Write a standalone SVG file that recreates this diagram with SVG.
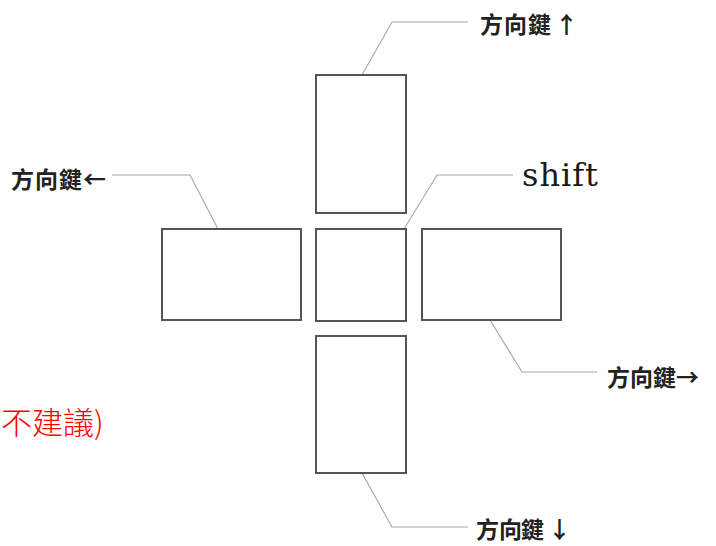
<svg xmlns="http://www.w3.org/2000/svg" width="716" height="546" viewBox="0 0 716 546">
<style>
.key{fill:#fff;stroke:#555;stroke-width:2}
.lead{fill:none;stroke:#aaa;stroke-width:1.2}
.lbl{font-family:"Noto Sans CJK TC","Noto Sans CJK SC",sans-serif;font-weight:bold;font-size:23px;fill:#222}
.shift{font-family:"DejaVu Serif","Liberation Serif",serif;font-size:32px;fill:#1a1a1a;letter-spacing:1px}
.red{font-family:"Noto Sans CJK TC","Noto Sans CJK SC",sans-serif;font-size:31px;fill:#ff0000;font-weight:300}
</style>
<rect width="716" height="546" fill="#fff"/>
<g id="connectors">
<polyline class="lead" points="362,75 392,22 468,22"/>
<polyline class="lead" points="218,229 190,175 112,175"/>
<polyline class="lead" points="404,229 437,175 513,175"/>
<polyline class="lead" points="490,320 522,372 597,372"/>
<polyline class="lead" points="362,473 392,527 468,527"/>
</g>
<g id="key-up"><rect class="key" x="316" y="75" width="90" height="138"/></g>
<g id="key-left"><rect class="key" x="162" y="229" width="139" height="91"/></g>
<g id="key-shift"><rect class="key" x="316" y="229" width="90" height="92"/></g>
<g id="key-right"><rect class="key" x="422" y="229" width="139" height="91"/></g>
<g id="key-down"><rect class="key" x="316" y="336" width="90" height="137"/></g>
<g id="label-up"><text class="lbl" x="480 504 528 555" y="33">方向鍵↑</text></g>
<g id="label-left"><text class="lbl" x="11 35 59 83" y="188">方向鍵←</text></g>
<g id="label-shift"><text class="shift" x="522" y="186">shift</text></g>
<g id="label-right"><text class="lbl" x="607 630 653 676" y="386">方向鍵→</text></g>
<g id="label-down"><text class="lbl" x="476 499 521 548" y="538">方向鍵↓</text></g>
<g id="note"><text class="red" x="1" y="434">不建議)</text></g>
</svg>
